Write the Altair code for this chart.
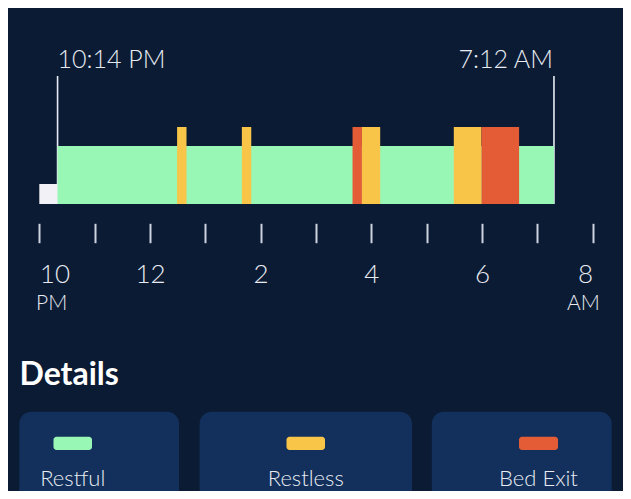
import altair as alt
import pandas as pd

# ---------------- data (hours after 10 PM) ----------------
STATES = ["Awake", "Restful", "Restless", "Bed Exit"]
STATE_COLORS = ["#f1f1f6", "#98f7b5", "#f8c548", "#e45c35"]

SEG_STATE = ["Awake", "Restful", "Restless", "Restless", "Bed Exit", "Restless", "Restless", "Bed Exit"]
SEG_START = [0.00, 0.33, 2.49, 3.66, 5.66, 5.83, 7.49, 7.99]
SEG_END = [0.33, 9.30, 2.66, 3.83, 5.83, 6.16, 7.99, 8.67]

MARKER_TIME = [0.33, 9.30]
MARKER_LABEL = ["10:14 PM", "7:12 AM"]

TICK_HOURS = list(range(11))
TICK_LABELS = ["10", "", "12", "", "2", "", "4", "", "6", "", "8"]
SUFFIX_HOURS = [0, 10]
SUFFIX_LABELS = ["PM", "AM"]

LEGEND_ITEMS = ["Restful", "Restless", "Bed Exit"]

# ---------------- style / layout ----------------
BG = "#0b1b34"
CARD = "#12305b"
TEXT = "#e8ebf2"
TICK = "#cdd3df"
FONT = "Lato"
W, H = 615, 483
X_RANGE = [31.3, 584.7]
Y_RANGE = [196, 96]
LEVEL = {"Awake": 20, "Restful": 58, "Restless": 77, "Bed Exit": 77}
CARD_X = [(11.3, 171), (191.6, 404), (423.8, 603.7)]
SWATCH_X = [(45.5, 84), (278.5, 317), (511, 550)]

segments = pd.DataFrame({"state": SEG_STATE, "start": SEG_START, "end": SEG_END})
segments["level"] = segments["state"].map(LEVEL)
segments["base"] = 0
markers = pd.DataFrame({"t": MARKER_TIME, "label": MARKER_LABEL})
markers["top"] = 128
markers["base"] = 0
suffix = pd.DataFrame({"h": SUFFIX_HOURS, "label": SUFFIX_LABELS})
dummy = pd.DataFrame({"k": [0]})

xscale = alt.Scale(domain=[0, 10], range=X_RANGE, nice=False, zero=False)
yscale = alt.Scale(domain=[0, 100], range=Y_RANGE, nice=False, zero=False)
cscale = alt.Scale(domain=STATES, range=STATE_COLORS)

label_expr = "[" + ",".join(f"'{t}'" for t in TICK_LABELS) + "][datum.value]"

layers = []

# cards
for (x0, x1) in CARD_X:
    layers.append(
        alt.Chart(dummy).mark_rect(color=CARD, cornerRadius=12).encode(
            x=alt.value(x0), x2=alt.value(x1), y=alt.value(403.7), y2=alt.value(540)
        )
    )

# marker rules
rules = alt.Chart(markers).mark_rule(color=TEXT, strokeWidth=1.6).encode(
    x=alt.X("t:Q", scale=xscale),
    y=alt.Y("top:Q", scale=yscale, axis=None),
    y2="base:Q",
)
layers.append(rules)

# bars
bars = alt.Chart(segments).mark_rect().encode(
    x=alt.X(
        "start:Q",
        scale=xscale,
        title=None,
        axis=alt.Axis(
            values=TICK_HOURS,
            labelExpr=label_expr,
            orient="bottom",
            offset=-267.7,
            domain=False,
            grid=False,
            tickSize=19.4,
            tickWidth=2,
            tickColor=TICK,
            labelFont=FONT,
            labelFontSize=26,
            labelFontWeight=300,
            labelColor=TEXT,
            labelPadding=18.5,
            labelFlush=True,
            labelOverlap=False,
        ),
    ),
    x2="end:Q",
    y=alt.Y("level:Q", scale=yscale, axis=None),
    y2="base:Q",
    color=alt.Color("state:N", scale=cscale, legend=None),
)
layers.append(bars)

# marker labels
layers.append(
    alt.Chart(markers).transform_filter("datum.t < 5").mark_text(
        align="left", baseline="alphabetic", font=FONT, fontSize=25, fontWeight=300, color=TEXT
    ).encode(x=alt.X("t:Q", scale=xscale), y=alt.value(59.7), text="label:N")
)
layers.append(
    alt.Chart(markers).transform_filter("datum.t > 5").mark_text(
        align="right", baseline="alphabetic", font=FONT, fontSize=25, fontWeight=300, color=TEXT, dx=-1
    ).encode(x=alt.X("t:Q", scale=xscale), y=alt.value(59.7), text="label:N")
)

# AM / PM suffixes
layers.append(
    alt.Chart(suffix).transform_filter("datum.h < 5").mark_text(
        align="center", baseline="alphabetic", font=FONT, fontSize=21, fontWeight=300, color=TEXT, dx=12.4
    ).encode(x=alt.X("h:Q", scale=xscale), y=alt.value(302), text="label:N")
)
layers.append(
    alt.Chart(suffix).transform_filter("datum.h > 5").mark_text(
        align="center", baseline="alphabetic", font=FONT, fontSize=21, fontWeight=300, color=TEXT, dx=-9.2
    ).encode(x=alt.X("h:Q", scale=xscale), y=alt.value(302), text="label:N")
)

# Details title
layers.append(
    alt.Chart(dummy).mark_text(
        align="left", baseline="alphabetic", font=FONT, fontSize=32, fontWeight="bold", color="#ffffff",
        text="Details",
    ).encode(x=alt.value(11.5), y=alt.value(377))
)

# legend swatches and labels
color_of = dict(zip(STATES, STATE_COLORS))
for item, (s0, s1) in zip(LEGEND_ITEMS, SWATCH_X):
    layers.append(
        alt.Chart(dummy).mark_rect(color=color_of[item], cornerRadius=3).encode(
            x=alt.value(s0), x2=alt.value(s1), y=alt.value(428.7), y2=alt.value(442)
        )
    )
    layers.append(
        alt.Chart(dummy).mark_text(
            align="center", baseline="alphabetic", font=FONT, fontSize=22, fontWeight=300, color=TEXT,
            text=item,
        ).encode(x=alt.value((s0 + s1) / 2), y=alt.value(477.7))
    )

chart = (
    alt.layer(*layers)
    .properties(width=W, height=H, background=BG, padding=0, autosize="none")
    .configure_view(strokeWidth=0)
)

chart.save("out.html", embed_options={"renderer": "svg", "actions": False})
